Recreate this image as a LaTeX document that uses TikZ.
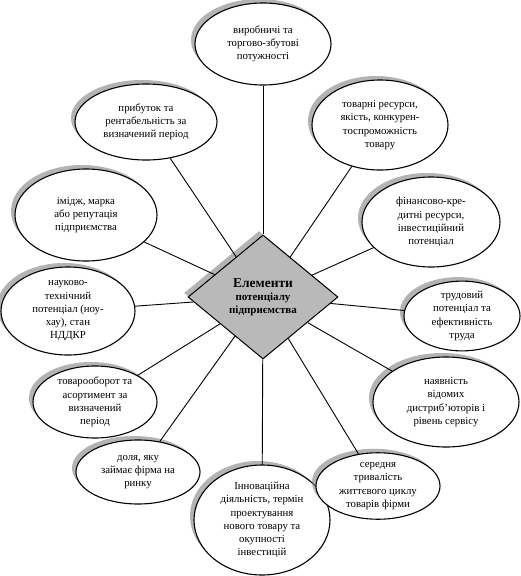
\documentclass[tikz,border=0pt]{standalone}
\usepackage{fontspec}
\setmainfont{Liberation Serif}
\usetikzlibrary{shapes.geometric,shadows}

\begin{document}
\begin{tikzpicture}[x=1pt, y=-1pt,
  elem/.style={ellipse, draw, line width=1.1pt, fill=white, inner sep=0pt, align=center, font=\fontsize{10.8}{13.2}\selectfont, drop shadow={shadow xshift=-4pt, shadow yshift=4pt, fill=gray, opacity=.6}},
  core/.style={diamond, draw, line width=1pt, fill=gray!55, inner sep=0pt, minimum width=150pt, minimum height=124pt, align=center, font=\bfseries\fontsize{11}{13}\selectfont, drop shadow={shadow xshift=-4pt, shadow yshift=4pt, fill=gray, opacity=.6}},
  link/.style={line width=0.9pt}]
				\useasboundingbox (0,0) rectangle (521,576);
				\node (core) at (263,297) [core] {{\fontsize{13.5}{15}\selectfont Елементи}\\потенціалу\\підприємства};
				
				\node (vyrob) at (263,44) [elem, minimum width=136pt, minimum height=82pt] {виробничі та\\торгово-збутові\\потужності};
				\node (prybut) at (146,122) [elem, minimum width=142pt, minimum height=76pt] {прибуток та\\рентабельність за\\визначений період};
				\node (resurs) at (380,125) [elem, minimum width=136pt, minimum height=90pt] {товарні ресурси,\\якість, конкурен-\\тоспроможність\\товару};
				\node (imidzh) at (86,215) [elem, minimum width=142pt, minimum height=92pt] {імідж, марка\\або репутація\\підприємства};
				\node (finans) at (431,222) [elem, minimum width=138pt, minimum height=90pt] {фінансово-кре-\\дитні ресурси,\\інвестиційний\\потенціал};
				\node (nauka) at (68,311) [elem, minimum width=134pt, minimum height=88pt] {науково-\\технічний\\потенціал (ноу-\\хау), стан\\НДДКР};
				\node (trud) at (462,316) [elem, minimum width=116pt, minimum height=66pt] {трудовий\\потенціал та\\ефективність\\труда};
				\node (oborot) at (95,402) [elem, minimum width=124pt, minimum height=72pt] {товарооборот та\\асортимент за\\визначений\\період};
				\node (dystryb) at (446,402) [elem, minimum width=146pt, minimum height=90pt] {наявність\\відомих\\дистриб’юторів і\\рівень сервісу};
				\node (dolya) at (138,472) [elem, minimum width=124pt, minimum height=64pt] {доля, яку\\займає фірма на\\ринку};
				\node (innov) at (262,520) [elem, minimum width=136pt, minimum height=110pt] {Інноваційна\\діяльність, термін\\проектування\\нового товару та\\окупності\\інвестицій};
				\node (cykl) at (378,486) [elem, minimum width=124pt, minimum height=66pt] {середня\\тривалість\\життєвого циклу\\товарів фірми};
				
				\draw[link] (core) -- (vyrob);
				\draw[link] (core) -- (prybut);
				\draw[link] (core) -- (resurs);
				\draw[link] (core) -- (imidzh);
				\draw[link] (core) -- (finans);
				\draw[link] (core) -- (nauka);
				\draw[link] (core) -- (trud);
				\draw[link] (core) -- (oborot);
				\draw[link] (core) -- (dystryb);
				\draw[link] (core) -- (dolya);
				\draw[link] (core) -- (innov);
				\draw[link] (core) -- (cykl);
			\end{tikzpicture}
\end{document}
